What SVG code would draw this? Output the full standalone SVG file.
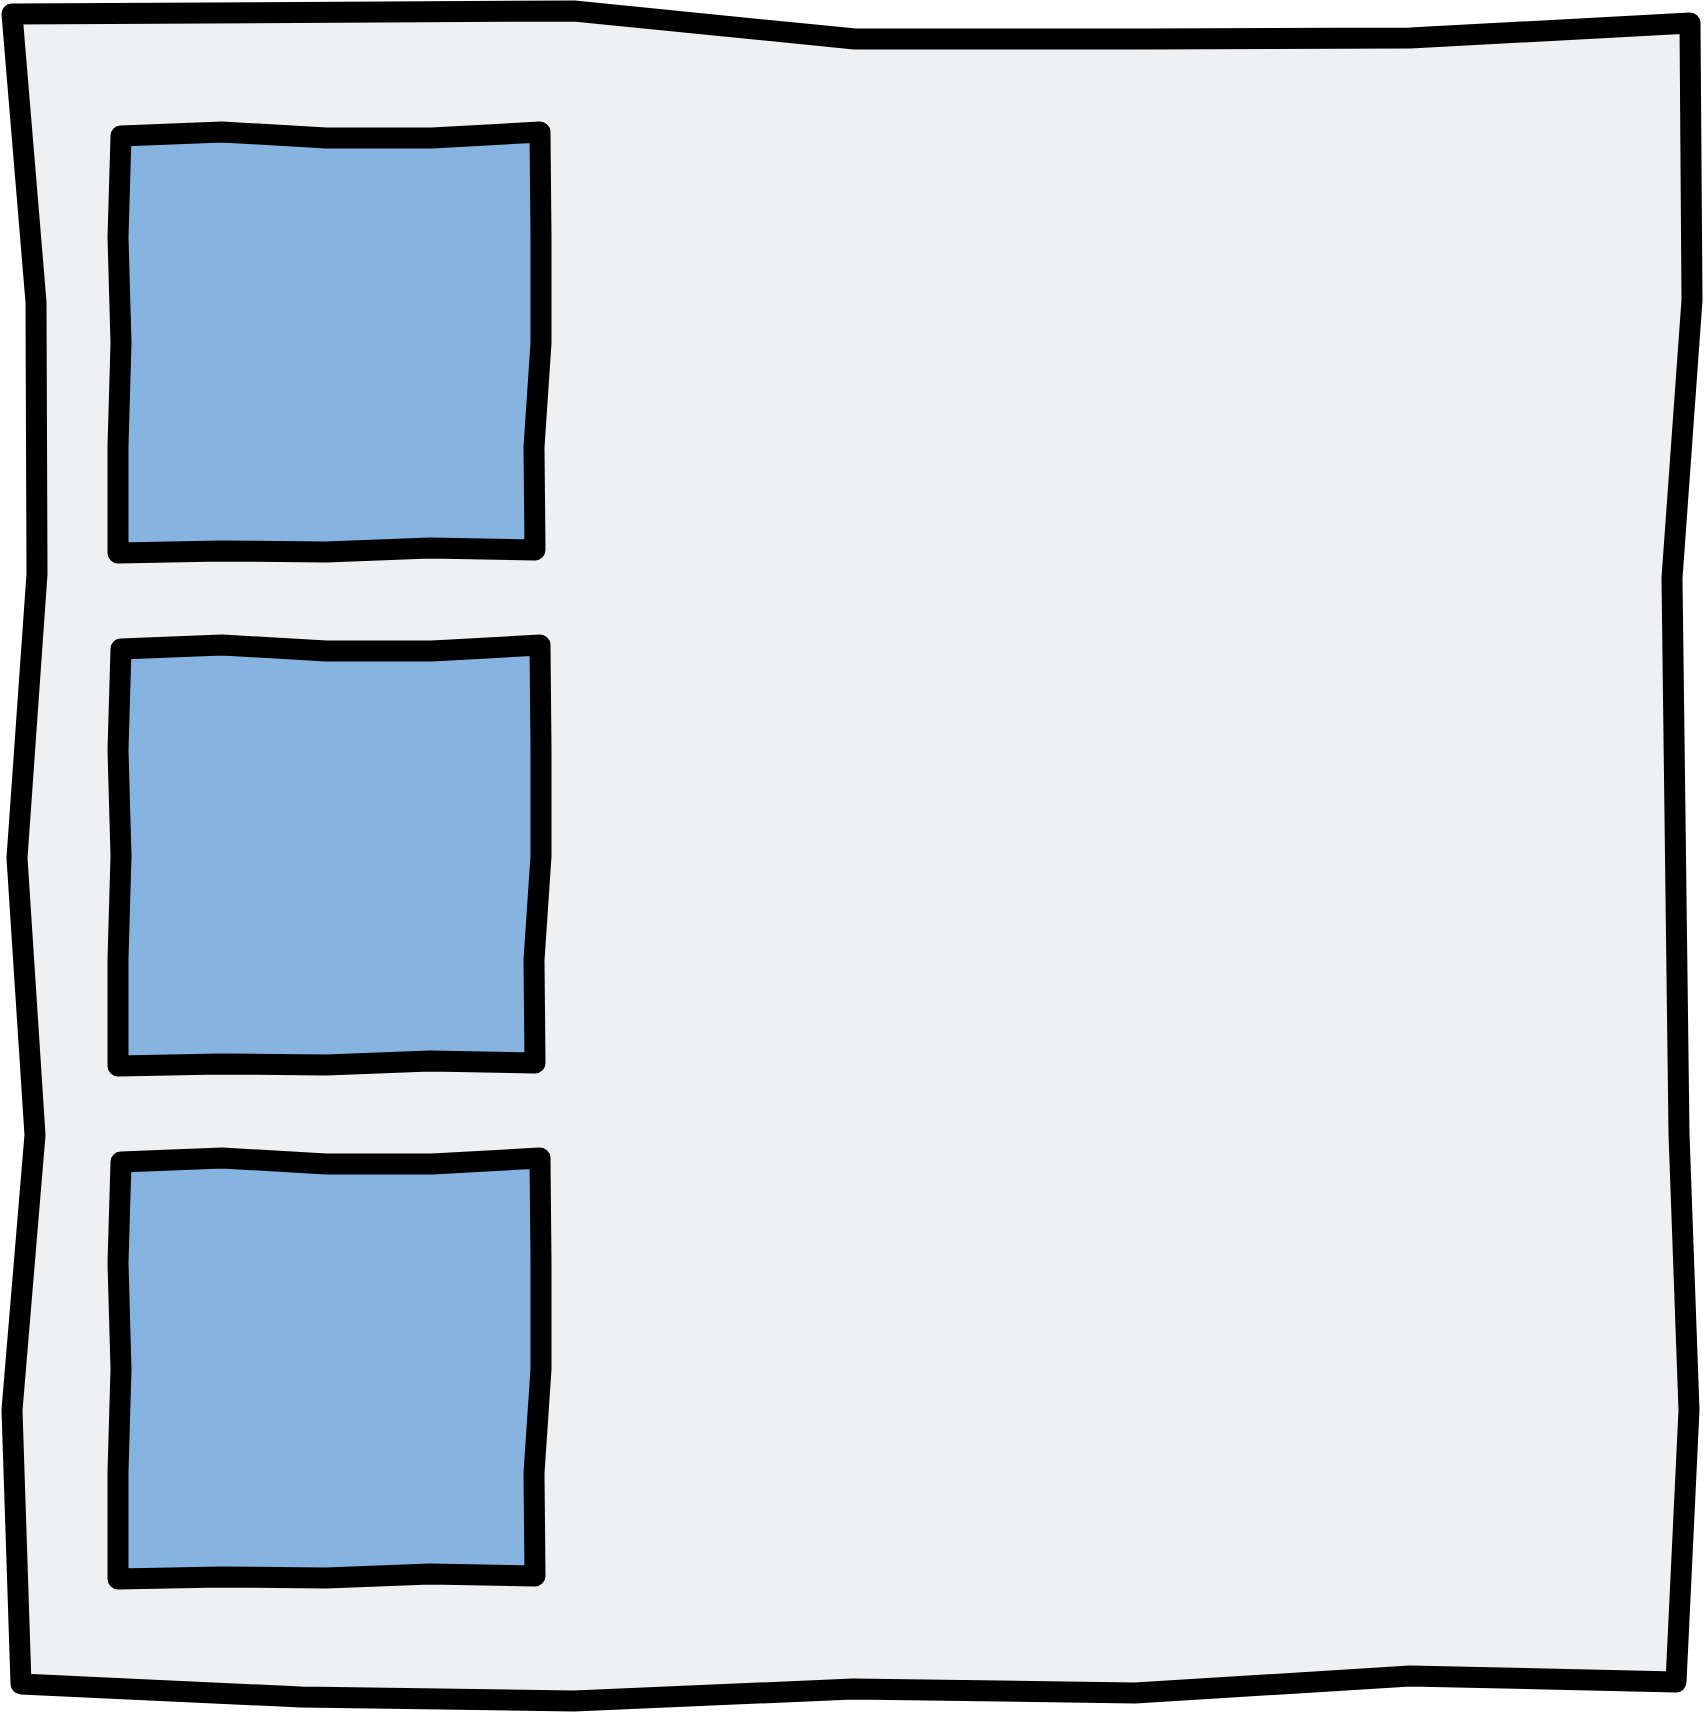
<svg xmlns="http://www.w3.org/2000/svg" width="1704" height="1714" viewBox="0 0 1704 1714">
<style>
.frame{fill:#eff0f2;stroke:#000;stroke-width:21;stroke-linejoin:round;stroke-linecap:round}
.box{fill:#86b3e0;stroke:#000;stroke-width:21;stroke-linejoin:round;stroke-linecap:round}
</style>
<defs>
<path id="boxshape" d="M121,136 L222,132 L326,138 L432,138 L540,132 L541,237 L541,343 L534,447 L535,550 L430,548 L326,552 L221,551 L118,553 L118,446 L121,343 L118,237 Z"/>
</defs>
<rect width="1704" height="1714" fill="#fff"/>
<g id="container">
<path class="frame" d="M12,14 L574,11 L855,39 L1147,39 L1410,38 L1690,23 L1692,300 L1672,578 L1679,1134 L1689,1410 L1676,1682 L1410,1676 L1135,1693 L853,1689 L574,1701 L301,1697 L21,1684 L12,1410 L35,1135 L17,858 L37,574 L36,302 Z"/>
</g>
<g id="box1"><use href="#boxshape" class="box"/></g>
<g id="box2"><use href="#boxshape" class="box" transform="translate(0,513)"/></g>
<g id="box3"><use href="#boxshape" class="box" transform="translate(0,1026)"/></g>
<g id="connectors"/>
</svg>
